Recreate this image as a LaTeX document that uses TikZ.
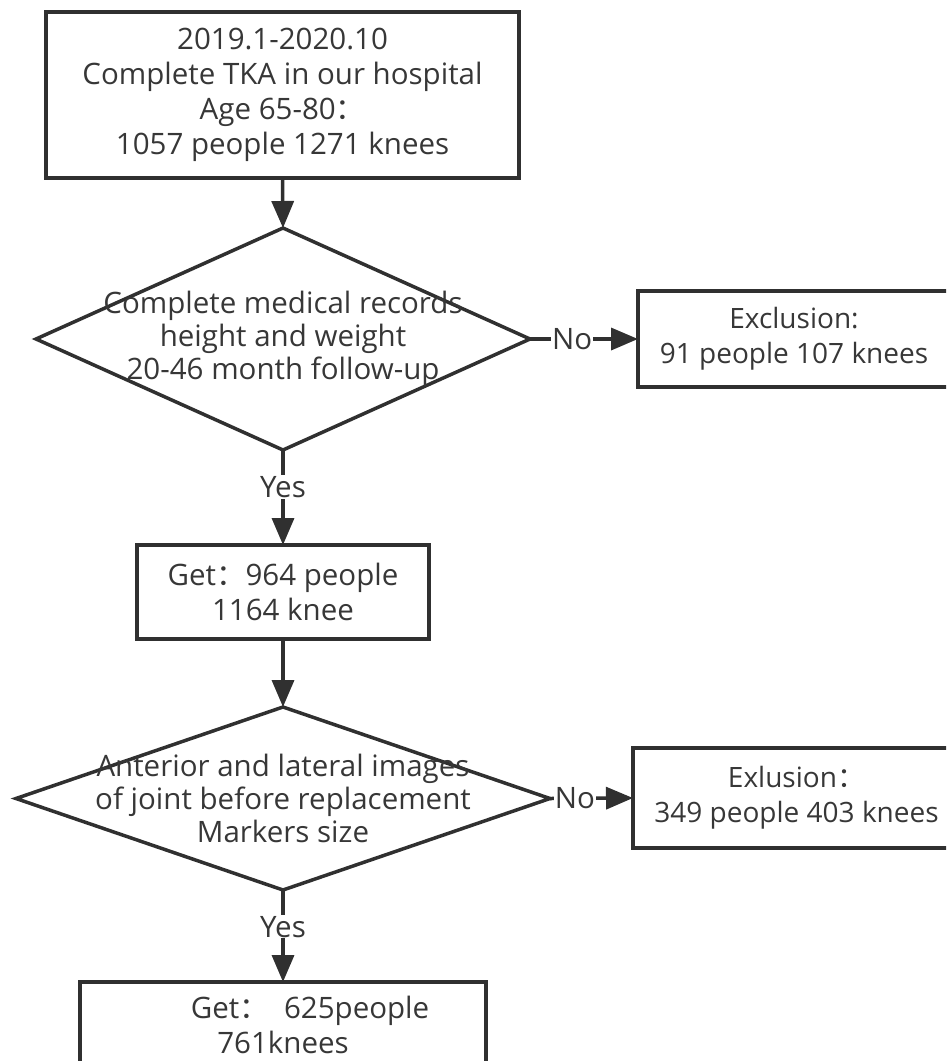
\documentclass[tikz,border=0pt]{standalone}
\usepackage{fontspec}
\setmainfont{Open Sans}
\newfontfamily\cjk{Noto Sans CJK SC}
\usetikzlibrary{shapes.geometric,arrows.meta}
\definecolor{darkline}{RGB}{48,48,48}
\definecolor{darktext}{RGB}{55,55,55}
\newcommand{\wcolon}{{\cjk ：}}

\begin{document}
\begin{tikzpicture}[x=1pt,y=-1pt]
\tikzstyle{every node}=[font=\fontsize{29.5}{35}\selectfont, text=darktext]
\tikzstyle{box}=[draw=darkline, line width=3.5pt, rectangle, inner sep=0pt, outer sep=0pt, align=center]
\tikzstyle{exclbox}=[box, font=\fontsize{28}{35}\selectfont]
\tikzstyle{decision}=[draw=darkline, line width=3.5pt, diamond, inner sep=0pt, outer sep=0pt]
\tikzstyle{plain}=[align=center, inner sep=0pt, font=\fontsize{29.5}{33}\selectfont]
\tikzstyle{flow}=[draw=darkline, line width=3.5pt, -{Triangle[length=27pt,width=22pt]}]
\tikzstyle{lbl}=[fill=white, inner sep=1pt]

\useasboundingbox (0,0) rectangle (946,1061);
\clip (0,0) rectangle (946,1061);

% boxes and decisions
\node[box, minimum width=473pt, minimum height=166pt] (start) at (282.5,95)
  {2019.1-2020.10\\Complete TKA in our hospital\\Age 65-80\wcolon\\1057 people 1271 knees};
\node[decision, minimum width=494pt, minimum height=222pt] (check1) at (283,339) {};
\node[plain] at (check1) {Complete medical records\\height and weight\\20-46 month follow-up};
\node[exclbox, minimum width=312pt, minimum height=96pt] (excl1) at (794,339)
  {Exclusion:\\91 people 107 knees};
\node[box, minimum width=292pt, minimum height=94pt] (get1) at (283,592)
  {Get\wcolon 964 people\\1164 knee};
\node[decision, minimum width=534pt, minimum height=183pt] (check2) at (283,798.5) {};
\node[plain] at (check2) {Anterior and lateral images\\of joint before replacement\\Markers size};
\node[exclbox, minimum width=327pt, minimum height=100pt] (excl2) at (796.5,798)
  {Exlusion\wcolon\\349 people 403 knees};
\node[box, minimum width=406pt, minimum height=86pt] (get2) at (283,1025)
  {\hspace*{54pt}Get\wcolon\ \ 625people\\761knees};

% connectors
\draw[flow] (start.south) -- (check1.north);
\draw[flow] (check1.east) -- node[lbl, pos=0.39]{No} (excl1.west);
\draw[flow] (check1.south) -- node[lbl, pos=0.39]{Yes} (get1.north);
\draw[flow] (get1.south) -- (check2.north);
\draw[flow] (check2.east) -- node[lbl, pos=0.3]{No} (excl2.west);
\draw[flow] (check2.south) -- node[lbl, pos=0.4]{Yes} (get2.north);

\end{tikzpicture}
\end{document}
